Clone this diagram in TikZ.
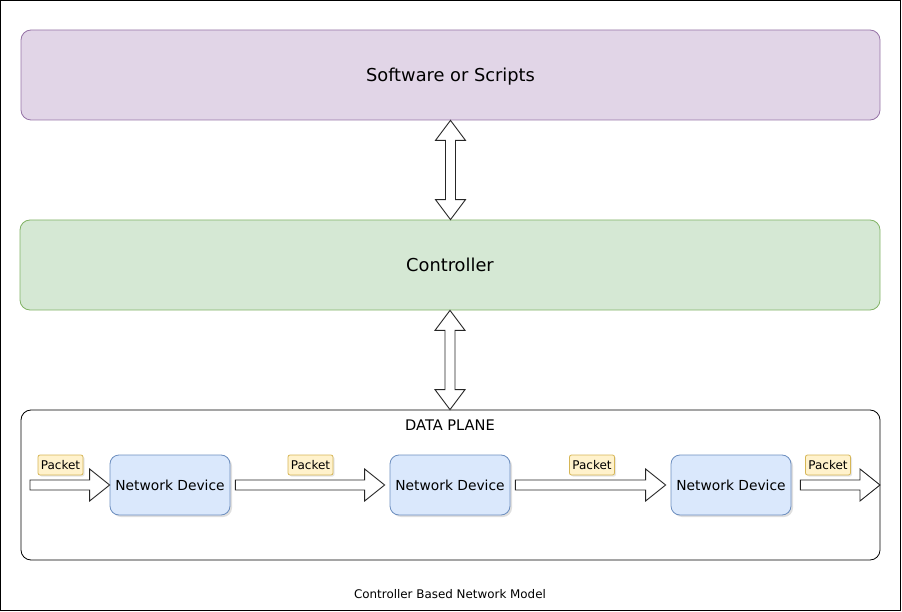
\documentclass[tikz,border=0pt]{standalone}
\usepackage{fontspec}
\setmainfont{DejaVu Sans}
\usetikzlibrary{calc,shadows}

\definecolor{softfill}{HTML}{E1D5E7}
\definecolor{softline}{HTML}{9673A6}
\definecolor{ctrlfill}{HTML}{D5E8D4}
\definecolor{ctrlline}{HTML}{82B366}
\definecolor{devfill}{HTML}{DAE8FC}
\definecolor{devline}{HTML}{6C8EBF}
\definecolor{tagfill}{HTML}{FFF2CC}
\definecolor{tagline}{HTML}{D6B656}

\tikzset{
  layer/.style={draw, line width=0.8pt, rounded corners=10pt, minimum width=859pt,
    minimum height=90pt, text depth=0pt, font=\fontsize{17.8}{20}\selectfont},
  device/.style={draw=devline, fill=devfill, line width=0.8pt, rounded corners=9pt,
    minimum width=120pt, minimum height=60pt, inner sep=0pt,
    font=\fontsize{13.8}{16}\selectfont,
    drop shadow={shadow xshift=2pt, shadow yshift=-2pt, opacity=0.25}},
  tag/.style={draw=tagline, fill=tagfill, line width=0.8pt, rounded corners=2pt,
    minimum width=45pt, minimum height=20pt, inner sep=0pt,
    font=\fontsize{12}{14}\selectfont,
    drop shadow={shadow xshift=1.5pt, shadow yshift=-1.5pt, opacity=0.2}},
  blockarrow/.style={draw=black!85, fill=white, line width=0.9pt, line join=miter}
}

% block arrow pointing right, from #1 to #2
\newcommand\hblock[2]{%
  \draw[blockarrow] let \p1=(#1), \p2=(#2) in
    (\x1,\y1+5pt) -- (\x2-20pt,\y1+5pt) -- (\x2-20pt,\y1+16pt) -- (\x2,\y1)
    -- (\x2-20pt,\y1-16pt) -- (\x2-20pt,\y1-5pt) -- (\x1,\y1-5pt) -- cycle;}

% double block arrow, from top point #1 down to #2
\newcommand\vblock[2]{%
  \draw[blockarrow] let \p1=(#1), \p2=(#2) in
    (\x1,\y1) -- (\x1+15pt,\y1-20pt) -- (\x1+5pt,\y1-20pt) -- (\x1+5pt,\y2+20pt)
    -- (\x1+15pt,\y2+20pt) -- (\x1,\y2) -- (\x1-15pt,\y2+20pt) -- (\x1-5pt,\y2+20pt)
    -- (\x1-5pt,\y1-20pt) -- (\x1-15pt,\y1-20pt) -- cycle;}

\begin{document}
\begin{tikzpicture}[x=1pt,y=-1pt]
\useasboundingbox (0,0) rectangle (902,612);
\draw[line width=1pt] (0.5,0.5) rectangle (900.5,610.5);

\node[layer, draw=softline, fill=softfill] (soft) at (450.5,75) {Software or Scripts};
\node[layer, draw=ctrlline, fill=ctrlfill, minimum width=860pt] (ctrl) at (450,265) {Controller};
\node[draw, line width=0.8pt, rounded corners=10pt, minimum width=859pt,
  minimum height=150pt] (plane) at (450.5,485) {};
\node[font=\fontsize{14.6}{17}\selectfont] (planetitle) at (450,425) {DATA PLANE};

\vblock{soft.south}{ctrl.north}
\vblock{ctrl.south}{plane.north}

\node[device] (dev1) at (170,485) {Network Device};
\node[device] (dev2) at (450,485) {Network Device};
\node[device] (dev3) at (731,485) {Network Device};

\coordinate (entry) at (30,485);
\coordinate (exit) at (880,485);
\hblock{entry}{dev1.west}
\hblock{$(dev1.east)+(5,0)$}{$(dev2.west)+(-5,0)$}
\hblock{$(dev2.east)+(5,0)$}{$(dev3.west)+(-5,0)$}
\hblock{$(dev3.east)+(9,0)$}{exit}

\node[tag] (tag1) at (60.5,465) {Packet};
\node[tag] (tag2) at (310.5,465) {Packet};
\node[tag] (tag3) at (592,465) {Packet};
\node[tag] (tag4) at (828,465) {Packet};

\node[font=\fontsize{11.9}{14}\selectfont] (caption) at (450,594) {Controller Based Network Model};
\end{tikzpicture}
\end{document}
